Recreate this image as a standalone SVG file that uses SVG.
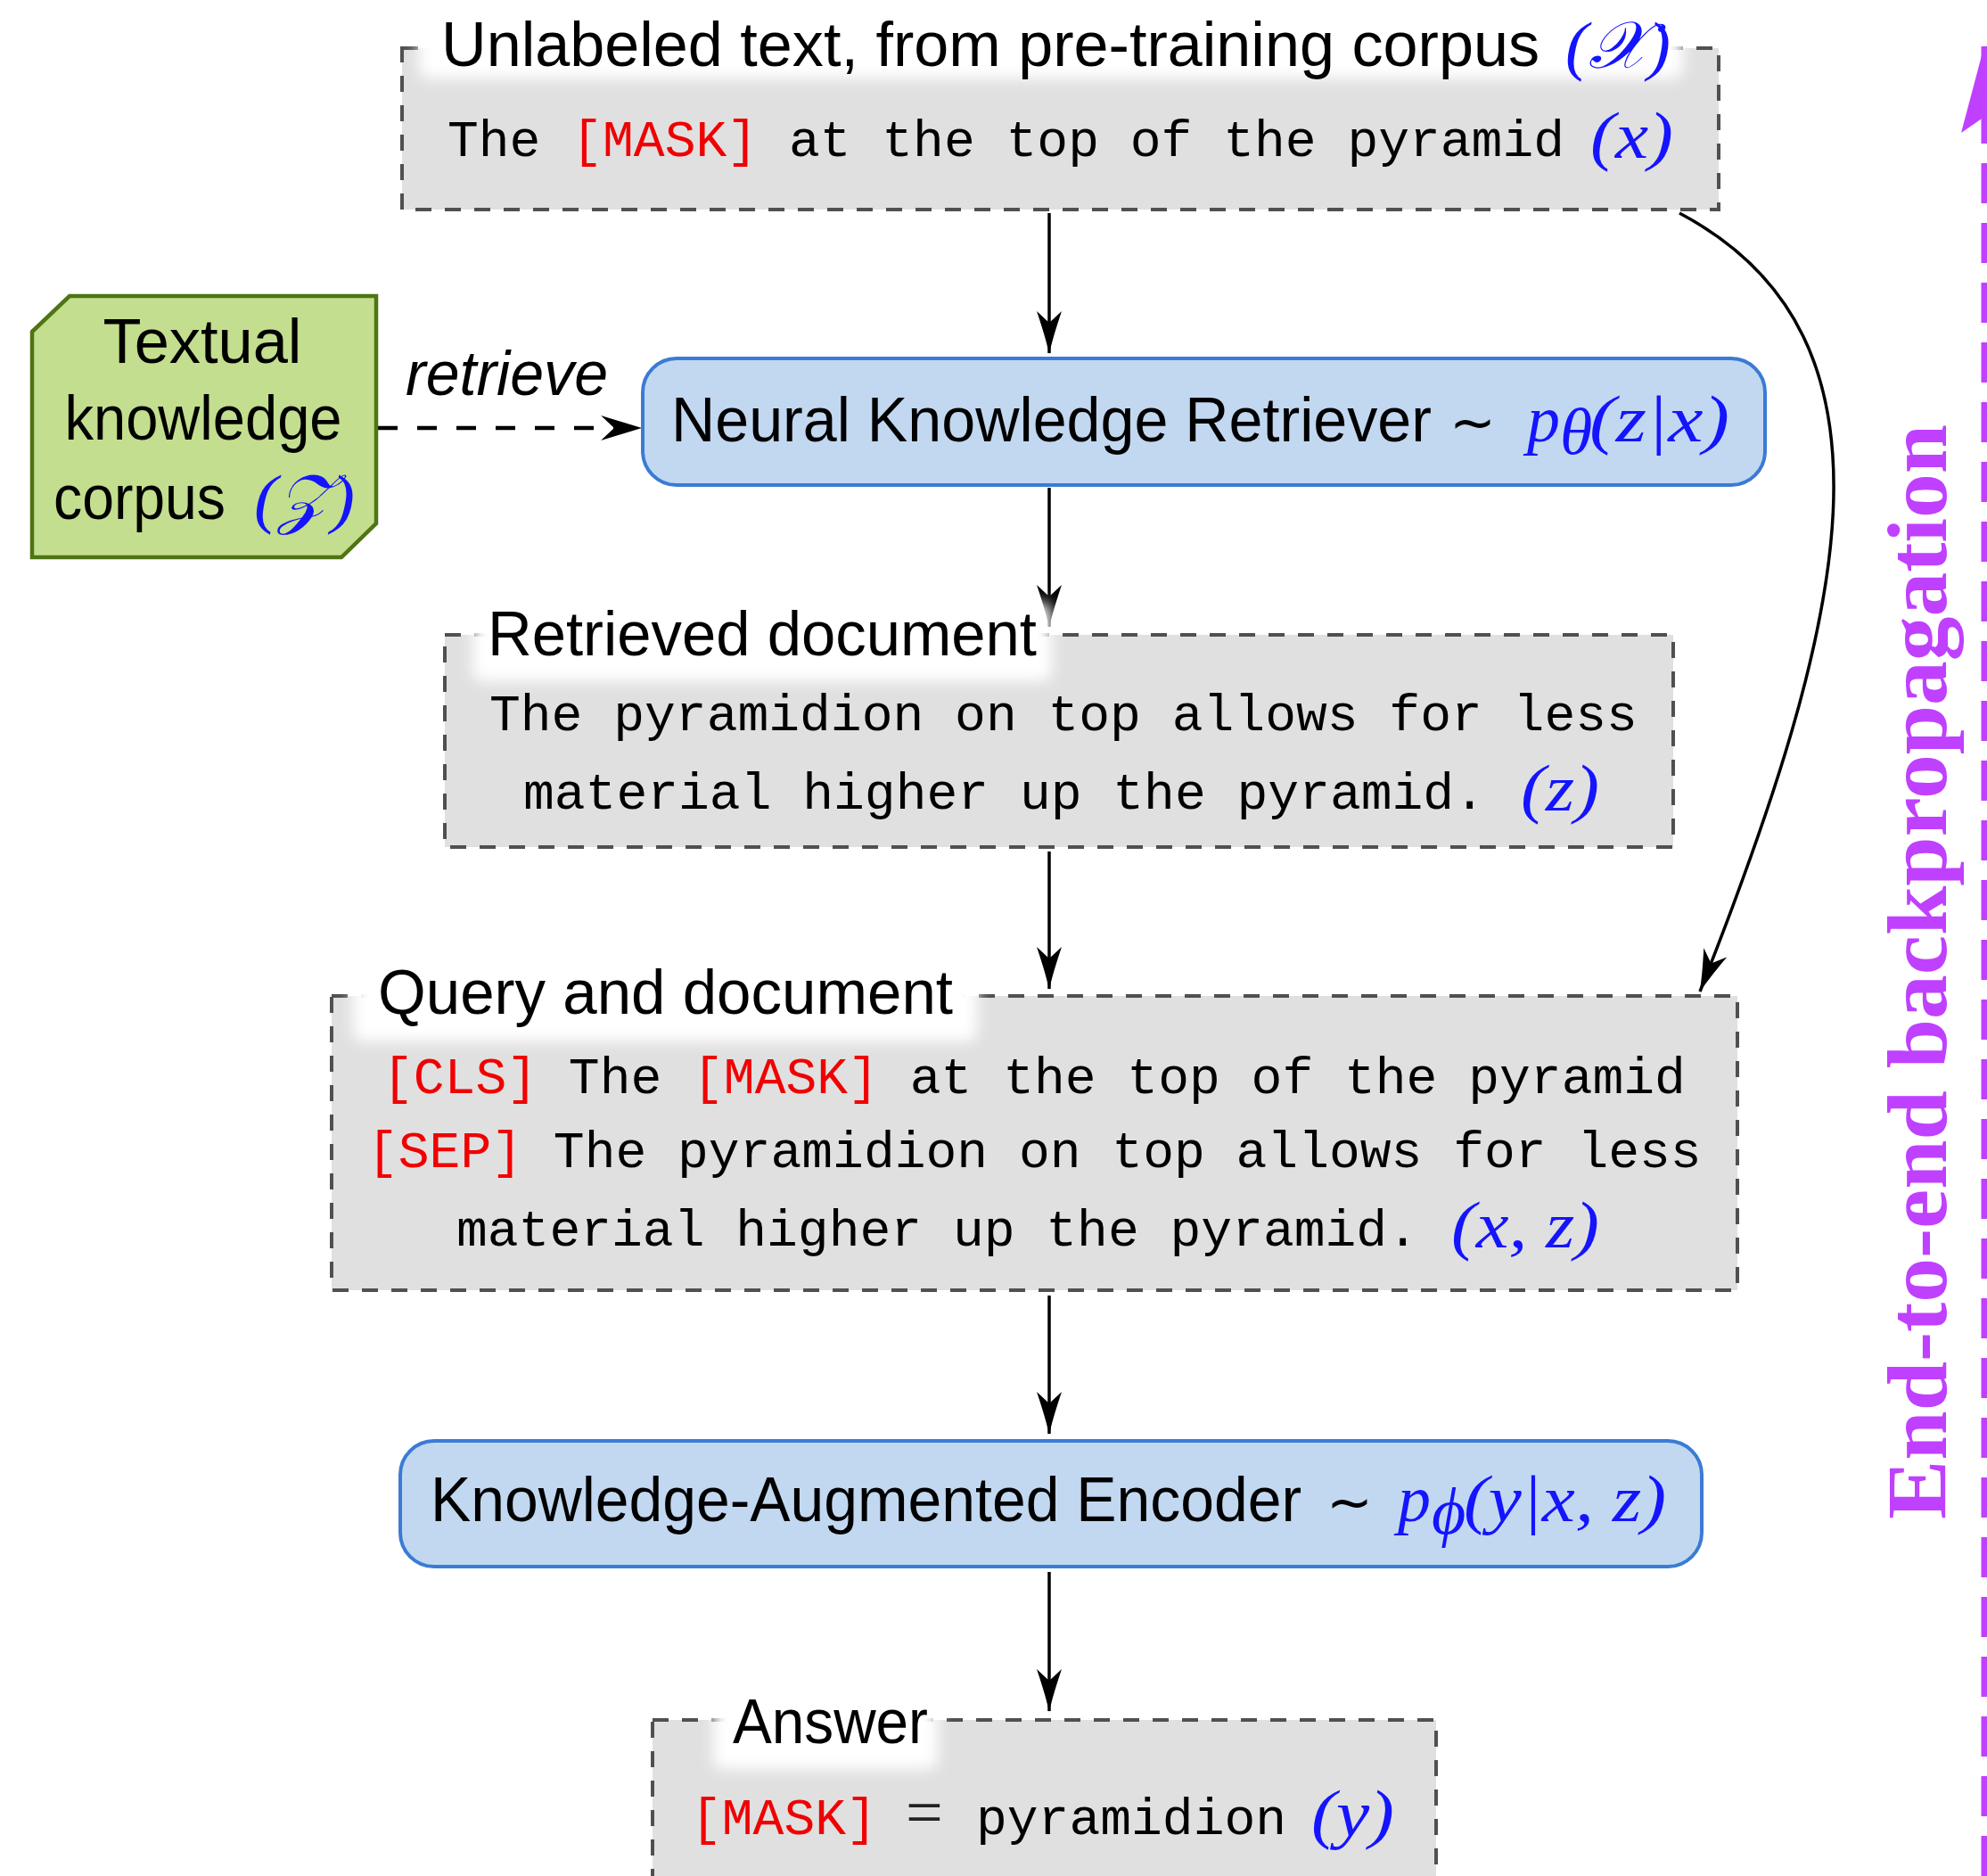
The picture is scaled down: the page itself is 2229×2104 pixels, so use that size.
<svg xmlns="http://www.w3.org/2000/svg" width="2229" height="2104" viewBox="0 0 2229 2104">
<style>
.sans{font-family:"Liberation Sans",Arial,sans-serif;font-size:70px;fill:#000}
.mono{font-family:"Liberation Mono","Courier New",monospace;font-size:58px;fill:#000}
.red{fill:#f00000}
.math{font-family:"Liberation Serif","DejaVu Serif",serif;font-style:italic;font-size:74px;fill:#1414ff}
.sym{font-family:"DejaVu Sans","Liberation Sans",sans-serif;font-size:62px;fill:#000}
.gbox{fill:#e0e0e0;stroke:#505050;stroke-width:4;stroke-dasharray:18 15}
.bbox{fill:#c2d8f1;stroke:#3a7bd5;stroke-width:4}
.conn{fill:none;stroke:#000;stroke-width:3.5}
.glow{fill:#fff;filter:url(#blur)}
</style>
<defs>
<filter id="blur" x="-20%" y="-60%" width="140%" height="220%">
<feGaussianBlur stdDeviation="8"/>
</filter>
<marker id="arr" markerUnits="userSpaceOnUse" viewBox="0 0 48 28" refX="47" refY="14" markerWidth="48" markerHeight="28" orient="auto">
<path d="M48,14 C30,10 12,4 0,0 L13,14 L0,28 C12,24 30,18 48,14 Z" fill="#000"/>
</marker>
<marker id="stealth" markerUnits="userSpaceOnUse" viewBox="0 0 46 28" refX="45" refY="14" markerWidth="46" markerHeight="28" orient="auto">
<path d="M46,14 L0,0 L15,14 L0,28 Z" fill="#000"/>
</marker>
<marker id="parr" markerUnits="userSpaceOnUse" viewBox="0 0 98 52" refX="97" refY="26" markerWidth="98" markerHeight="52" orient="auto">
<path d="M98,26 L0,0 L18,26 L0,52 Z" fill="#c040ff"/>
</marker>
</defs>

<g id="connectors">
<line class="conn" x1="1177" y1="239" x2="1177" y2="396" marker-end="url(#arr)"/>
<line class="conn" x1="1177" y1="547" x2="1177" y2="703" marker-end="url(#arr)"/>
<line class="conn" x1="1177" y1="955" x2="1177" y2="1109" marker-end="url(#arr)"/>
<line class="conn" x1="1177" y1="1453" x2="1177" y2="1608" marker-end="url(#arr)"/>
<line class="conn" x1="1177" y1="1763" x2="1177" y2="1919" marker-end="url(#arr)"/>
<path class="conn" d="M1884,239 C2150,380 2070,700 1907,1112" marker-end="url(#arr)"/>
<line x1="424" y1="480" x2="719" y2="480" stroke="#000" stroke-width="4.5" stroke-dasharray="22 22" marker-end="url(#stealth)"/>
<text class="sans" x="455" y="443" font-size="64" font-style="italic" textLength="227" lengthAdjust="spacingAndGlyphs">retrieve</text>
<line x1="2226" y1="2104" x2="2226" y2="52" stroke="#c040ff" stroke-width="7" stroke-dasharray="45 22" marker-end="url(#parr)"/>
<text transform="translate(2183,1090) rotate(-90)" text-anchor="middle" font-family="Liberation Serif, serif" font-weight="bold" font-size="95" fill="#c040ff" textLength="1228" lengthAdjust="spacingAndGlyphs">End-to-end backpropagation</text>
</g>

<g id="node-unlabeled">
<rect class="gbox" x="451" y="54" width="1477" height="181"/>
<rect class="glow" x="470" y="4" width="1418" height="84" rx="10"/>
<text class="sans" x="495" y="74" textLength="1232" lengthAdjust="spacingAndGlyphs">Unlabeled text, from pre-training corpus</text>
<text class="math" x="1756" y="76" textLength="118" lengthAdjust="spacingAndGlyphs">(𝒳)</text>
<text class="mono" x="502" y="175">The <tspan class="red">[MASK]</tspan> at the top of the pyramid</text>
<text class="math" x="1784" y="177" textLength="93" lengthAdjust="spacingAndGlyphs">(x)</text>
</g>

<g id="node-corpus">
<polygon points="78,332 422,332 422,587 383,625 36,625 36,372" fill="#c3de8e" stroke="#4e7414" stroke-width="4.5"/>
<text class="sans" x="227" y="407" text-anchor="middle" textLength="223" lengthAdjust="spacingAndGlyphs">Textual</text>
<text class="sans" x="228" y="493" text-anchor="middle" textLength="311" lengthAdjust="spacingAndGlyphs">knowledge</text>
<text class="sans" x="60" y="582" textLength="193" lengthAdjust="spacingAndGlyphs">corpus</text>
<text class="math" x="285" y="584" textLength="113" lengthAdjust="spacingAndGlyphs">(𝒵)</text>
</g>

<g id="node-retriever">
<rect class="bbox" x="721" y="402" width="1259" height="142" rx="38"/>
<text class="sans" x="753" y="495" textLength="853" lengthAdjust="spacingAndGlyphs">Neural Knowledge Retriever</text>
<text class="sym" x="1626" y="495">∼</text>
<text class="math" x="1713" y="495">p</text>
<text class="math" x="1750" y="509" font-size="50">θ</text>
<text class="math" x="1783" y="495" textLength="157" lengthAdjust="spacingAndGlyphs">(z|x)</text>
</g>

<g id="node-retrieved">
<rect class="gbox" x="499" y="712" width="1378" height="238"/>
<rect class="glow" x="530" y="676" width="650" height="88" rx="10"/>
<text class="sans" x="547" y="735" textLength="616" lengthAdjust="spacingAndGlyphs">Retrieved document</text>
<text class="mono" x="549" y="819">The pyramidion on top allows for less</text>
<text class="mono" x="587" y="907">material higher up the pyramid.</text>
<text class="math" x="1706" y="909" textLength="88" lengthAdjust="spacingAndGlyphs">(z)</text>
</g>

<g id="node-query">
<rect class="gbox" x="372" y="1117" width="1577" height="330"/>
<rect class="glow" x="396" y="1078" width="700" height="90" rx="10"/>
<text class="sans" x="424" y="1137" textLength="645" lengthAdjust="spacingAndGlyphs">Query and document</text>
<text class="mono" x="429" y="1226"><tspan class="red">[CLS]</tspan> The <tspan class="red">[MASK]</tspan> at the top of the pyramid</text>
<text class="mono" x="412" y="1309"><tspan class="red">[SEP]</tspan> The pyramidion on top allows for less</text>
<text class="mono" x="512" y="1397">material higher up the pyramid.</text>
<text class="math" x="1628" y="1399" textLength="166" lengthAdjust="spacingAndGlyphs">(x, z)</text>
</g>

<g id="node-encoder">
<rect class="bbox" x="449" y="1616" width="1460" height="141" rx="38"/>
<text class="sans" x="483" y="1706" textLength="977" lengthAdjust="spacingAndGlyphs">Knowledge-Augmented Encoder</text>
<text class="sym" x="1488" y="1706">∼</text>
<text class="math" x="1568" y="1706">p</text>
<text class="math" x="1606" y="1720" font-size="50">ϕ</text>
<text class="math" x="1642" y="1706" textLength="227" lengthAdjust="spacingAndGlyphs">(y|x, z)</text>
</g>

<g id="node-answer">
<rect class="gbox" x="732" y="1929" width="879" height="220"/>
<rect class="glow" x="800" y="1892" width="252" height="92" rx="10"/>
<text class="sans" x="822" y="1955" textLength="219" lengthAdjust="spacingAndGlyphs">Answer</text>
<text class="mono red" x="775" y="2057">[MASK]</text>
<text font-family="Liberation Serif, serif" font-size="74" fill="#222" x="1016" y="2057">=</text>
<text class="mono" x="1095" y="2057">pyramidion</text>
<text class="math" x="1471" y="2059" textLength="93" lengthAdjust="spacingAndGlyphs">(y)</text>
</g>
</svg>
